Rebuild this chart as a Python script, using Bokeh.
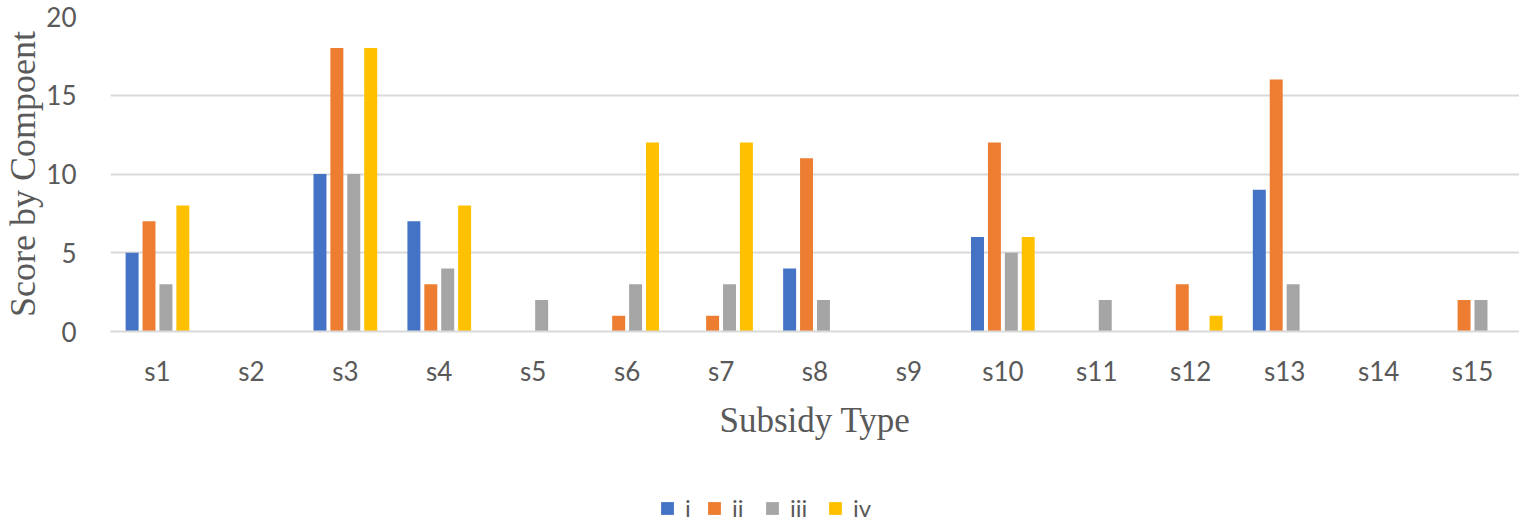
from bokeh.plotting import figure
from bokeh.layouts import column
from bokeh.models import FactorRange, Range1d, Legend, LegendItem, ColumnDataSource
from bokeh.transform import dodge
from bokeh.embed import file_html
from bokeh.resources import INLINE

categories = ["s1", "s2", "s3", "s4", "s5", "s6", "s7", "s8", "s9", "s10", "s11", "s12", "s13", "s14", "s15"]
series_names = ["i", "ii", "iii", "iv"]
vals_i = [5, 0, 10, 7, 0, 0, 0, 4, 0, 6, 0, 0, 9, 0, 0]
vals_ii = [7, 0, 18, 3, 0, 1, 1, 11, 0, 12, 0, 3, 16, 0, 2]
vals_iii = [3, 0, 10, 4, 2, 3, 3, 2, 0, 5, 2, 0, 3, 0, 2]
vals_iv = [8, 0, 18, 8, 0, 12, 12, 0, 0, 6, 0, 1, 0, 0, 0]
y_ticks = [0, 5, 10, 15, 20]
colors = ["#4472C4", "#ED7D31", "#A5A5A5", "#FFC000"]

source = ColumnDataSource(dict(cat=categories, i=vals_i, ii=vals_ii, iii=vals_iii, iv=vals_iv))

p = figure(x_range=FactorRange(*categories, range_padding=0), y_range=Range1d(0, 20),
           width=1519, height=446, output_backend="svg", toolbar_location=None,
           min_border_left=101, min_border_right=0, min_border_top=16, min_border_bottom=115)
p.outline_line_color = None

offsets = [-0.27, -0.09, 0.09, 0.27]
for name, off, col in zip(series_names, offsets, colors):
    p.vbar(x=dodge("cat", off, range=p.x_range), top=name, width=0.138, source=source,
           fill_color=col, line_color=None)

p.xgrid.grid_line_color = None
p.ygrid.grid_line_color = "#d9d9d9"
p.ygrid.grid_line_width = 2
p.yaxis.ticker = y_ticks

for ax in (p.xaxis[0], p.yaxis[0]):
    ax.major_tick_line_color = None
    ax.minor_tick_line_color = None
    ax.major_label_text_font = "Lato"
    ax.major_label_text_font_size = "26px"
    ax.major_label_text_color = "#595959"
    ax.axis_label_text_font = "Liberation Serif"
    ax.axis_label_text_font_style = "normal"
    ax.axis_label_text_color = "#595959"

p.yaxis.axis_line_color = None
p.yaxis.major_label_standoff = 28
p.yaxis.axis_label = "Score by Compoent"
p.yaxis.axis_label_text_font_size = "36px"
p.yaxis.axis_label_standoff = 0

p.xaxis.axis_line_color = "#d9d9d9"
p.xaxis.axis_line_width = 2
p.xaxis.major_label_standoff = 17
p.xaxis.axis_label = "Subsidy Type"
p.xaxis.axis_label_text_font_size = "35px"
p.xaxis.axis_label_standoff = 11

# legend strip (one legend per entry so each can sit where the reference has it)
q = figure(width=1519, height=76, output_backend="svg", toolbar_location=None,
           x_range=Range1d(0, 1), y_range=Range1d(0, 1),
           x_axis_type=None, y_axis_type=None, min_border=0)
q.outline_line_color = None
legend_x = [549, 596, 654, 717]
for name, col, lx in zip(series_names, colors, legend_x):
    r = q.vbar(x=[5], top=[1], width=0.1, fill_color=col, line_color=None)
    lg = Legend(items=[LegendItem(label=name, renderers=[r])], orientation="horizontal",
                location=(lx, 0), glyph_width=16, glyph_height=16, label_standoff=10,
                label_width=1, label_height=1, padding=1, margin=0, border_line_color=None,
                background_fill_alpha=0, label_text_font="Lato", label_text_font_size="24px",
                label_text_color="#595959")
    q.add_layout(lg, "center")

layout = column(p, q, spacing=0)
open("out.html", "w").write(file_html(layout, INLINE))
